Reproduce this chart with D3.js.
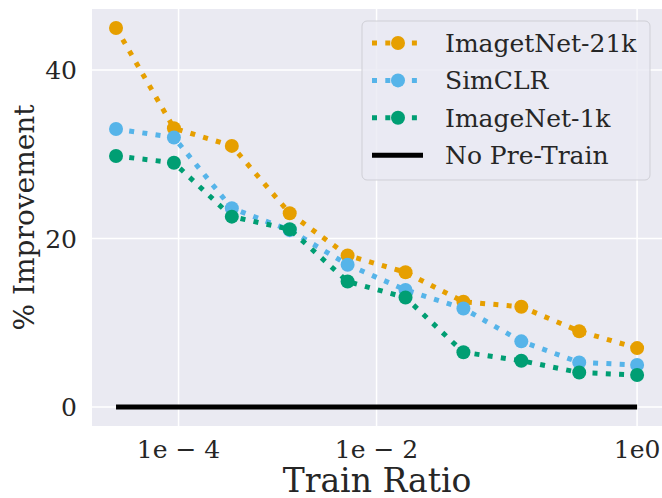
<!DOCTYPE html>
<html>
<head>
<meta charset="utf-8">
<script src="https://cdn.jsdelivr.net/npm/d3@7"></script>
<style>
	body { margin: 0; background: #fff; }
	text { font-family: 'DejaVu Serif', serif; fill: #262626; }
</style>
</head>
<body>
<svg id="chart" width="662" height="498"></svg>
<script>
// Train ratios shown as evenly spaced steps (index 0..9)
var ratioSteps = [0, 1, 2, 3, 4, 5, 6, 7, 8, 9];

var imagenet21k = [45, 33.1, 31, 23, 18, 16, 12.5, 11.9, 9, 7];
var simclr = [33, 32, 23.6, 21, 16.9, 13.9, 11.7, 7.8, 5.3, 5];
var imagenet1k = [29.8, 29, 22.6, 21.1, 14.9, 13, 6.5, 5.5, 4.1, 3.8];
var noPretrain = [0, 0, 0, 0, 0, 0, 0, 0, 0, 0];

var seriesNames = ['ImagetNet-21k', 'SimCLR', 'ImageNet-1k', 'No Pre-Train'];

var xTickPos = [1.08, 4.5, 9];
var xTickLabels = ['1e \u2212 4', '1e \u2212 2', '1e0'];
var yTicks = [0, 20, 40];

var svg = d3.select('#chart');
var margin = { top: 9, right: 0, bottom: 72, left: 92 };
var width = +svg.attr('width') - margin.left - margin.right;
var height = +svg.attr('height') - margin.top - margin.bottom;

var x = d3.scaleLinear().domain([-0.415, 9.43]).range([0, width]);
var y = d3.scaleLinear().domain([-2.25, 47.25]).range([height, 0]);

var g = svg.append('g').attr('transform', 'translate(' + margin.left + ',' + margin.top + ')');

// seaborn darkgrid background
g.append('rect').attr('width', width).attr('height', height).attr('fill', '#eaeaf2');

g.selectAll('.gx')
	.data(xTickPos)
	.enter()
	.append('line')
	.attr('x1', function(d) { return x(d); })
	.attr('x2', function(d) { return x(d); })
	.attr('y1', 0)
	.attr('y2', height)
	.attr('stroke', '#fff')
	.attr('stroke-width', 1.5);

g.selectAll('.gy')
	.data(yTicks)
	.enter()
	.append('line')
	.attr('x1', 0)
	.attr('x2', width)
	.attr('y1', function(d) { return y(d); })
	.attr('y2', function(d) { return y(d); })
	.attr('stroke', '#fff')
	.attr('stroke-width', 1.5);

// tick labels
g.selectAll('.ty')
	.data(yTicks)
	.enter()
	.append('text')
	.attr('x', -15)
	.attr('y', function(d) { return y(d); })
	.attr('dy', '0.36em')
	.attr('text-anchor', 'end')
	.style('font-size', '25px')
	.text(function(d) { return d; });

g.selectAll('.tx')
	.data(xTickPos)
	.enter()
	.append('text')
	.attr('x', function(d) { return x(d); })
	.attr('y', height + 32)
	.attr('text-anchor', 'middle')
	.style('font-size', '25px')
	.text(function(d, i) { return xTickLabels[i]; });

g.append('text')
	.attr('x', width / 2)
	.attr('y', height + 66)
	.attr('text-anchor', 'middle')
	.style('font-size', '33px')
	.text('Train Ratio');

svg.append('text')
	.attr('transform', 'translate(34,' + (margin.top + height / 2) + ') rotate(-90)')
	.attr('text-anchor', 'middle')
	.style('font-size', '28px')
	.text('% Improvement');

var series = [
	{ name: seriesNames[0], values: imagenet21k, color: '#e69f00' },
	{ name: seriesNames[1], values: simclr, color: '#56b4e9' },
	{ name: seriesNames[2], values: imagenet1k, color: '#009e73' }
];

var line = d3.line()
	.x(function(d, i) { return x(ratioSteps[i]); })
	.y(function(d) { return y(d); });

series.forEach(function(s) {
	g.append('path')
		.datum(s.values)
		.attr('d', line)
		.attr('fill', 'none')
		.attr('stroke', s.color)
		.attr('stroke-width', 5)
		.attr('stroke-dasharray', '5,8.3');

	g.selectAll(null)
		.data(s.values)
		.enter()
		.append('circle')
		.attr('cx', function(d, i) { return x(ratioSteps[i]); })
		.attr('cy', function(d) { return y(d); })
		.attr('r', 7)
		.attr('fill', s.color);
});

g.append('path')
	.datum(noPretrain)
	.attr('d', line)
	.attr('fill', 'none')
	.attr('stroke', '#000')
	.attr('stroke-width', 5);

// Legend
var legend = svg.append('g').attr('transform', 'translate(362,21)');

legend.append('rect')
	.attr('width', 288)
	.attr('height', 159)
	.attr('rx', 5)
	.attr('fill', '#eaeaf2')
	.attr('fill-opacity', 0.8)
	.attr('stroke', '#cfcfd6')
	.attr('stroke-width', 1);

var legendItems = series.concat([{ name: seriesNames[3], color: '#000', solid: true }]);

legendItems.forEach(function(s, i) {
	var ly = 22 + i * 37.4;
	legend.append('line')
		.attr('x1', 10)
		.attr('x2', 61)
		.attr('y1', ly)
		.attr('y2', ly)
		.attr('stroke', s.color)
		.attr('stroke-width', 5)
		.attr('stroke-dasharray', s.solid ? null : '5,8.3');
	if (!s.solid) {
		legend.append('circle')
			.attr('cx', 36)
			.attr('cy', ly)
			.attr('r', 7)
			.attr('fill', s.color);
	}
	legend.append('text')
		.attr('x', 83)
		.attr('y', ly)
		.attr('dy', '0.36em')
		.style('font-size', '25px')
		.text(s.name);
});
</script>
</body>
</html>
